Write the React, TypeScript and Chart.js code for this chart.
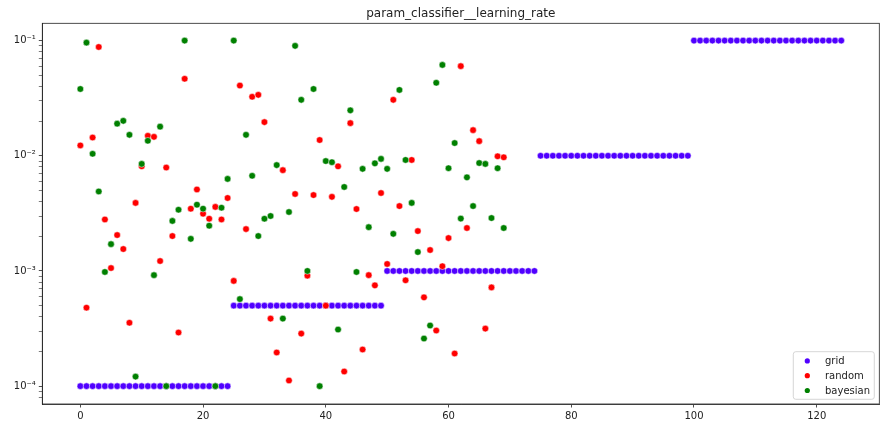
import React, { useEffect, useRef } from "react";
import Chart from "chart.js/auto";

const titleText = "param_classifier__learning_rate";
const seriesNames = ["grid", "random", "bayesian"];
const seriesColors = ["#5000ff", "#ff0000", "#008000"];

const gridValues = [
  0.0001, 0.0001, 0.0001, 0.0001, 0.0001, 0.0001, 0.0001, 0.0001, 0.0001, 0.0001, 0.0001, 0.0001, 0.0001, 0.0001, 0.0001, 0.0001, 0.0001, 0.0001, 0.0001, 0.0001, 0.0001, 0.0001, 0.0001, 0.0001, 0.0001,
  0.0005, 0.0005, 0.0005, 0.0005, 0.0005, 0.0005, 0.0005, 0.0005, 0.0005, 0.0005, 0.0005, 0.0005, 0.0005, 0.0005, 0.0005, 0.0005, 0.0005, 0.0005, 0.0005, 0.0005, 0.0005, 0.0005, 0.0005, 0.0005, 0.0005,
  0.001, 0.001, 0.001, 0.001, 0.001, 0.001, 0.001, 0.001, 0.001, 0.001, 0.001, 0.001, 0.001, 0.001, 0.001, 0.001, 0.001, 0.001, 0.001, 0.001, 0.001, 0.001, 0.001, 0.001, 0.001,
  0.01, 0.01, 0.01, 0.01, 0.01, 0.01, 0.01, 0.01, 0.01, 0.01, 0.01, 0.01, 0.01, 0.01, 0.01, 0.01, 0.01, 0.01, 0.01, 0.01, 0.01, 0.01, 0.01, 0.01, 0.01,
  0.1, 0.1, 0.1, 0.1, 0.1, 0.1, 0.1, 0.1, 0.1, 0.1, 0.1, 0.1, 0.1, 0.1, 0.1, 0.1, 0.1, 0.1, 0.1, 0.1, 0.1, 0.1, 0.1, 0.1, 0.1,
];

const randomValues = [
  0.0123, 0.00048, 0.0144, 0.088, 0.0028, 0.00106, 0.00205, 0.00155, 0.000355, 0.0039,
  0.0081, 0.0149, 0.0146, 0.00122, 0.0079, 0.00201, 0.000292, 0.0466, 0.00347, 0.0051,
  0.00314, 0.00284, 0.0036, 0.0028, 0.0043, 0.00082, 0.0407, 0.00231, 0.0325, 0.0338,
  0.0196, 0.000386, 0.000196, 0.0075, 0.000112, 0.00466, 0.000286, 0.00091, 0.00456, 0.0137,
  0.0005, 0.0044, 0.0081, 0.000134, 0.0192, 0.00345, 0.000208, 0.00092, 0.00075, 0.00475,
  0.00115, 0.0306, 0.00366, 0.00083, 0.0092, 0.00222, 0.00059, 0.00152, 0.000304, 0.0011,
  0.00193, 0.000192, 0.06, 0.00236, 0.0167, 0.0134, 0.000316, 0.00072, 0.0099, 0.0097,
];

const bayesianValues = [
  0.038, 0.096, 0.0104, 0.0049, 0.00098, 0.00171, 0.019, 0.0201, 0.0152, 0.000121,
  0.0085, 0.0135, 0.00092, 0.0179, 0.0001, 0.00272, 0.0034, 0.1, 0.0019, 0.00376,
  0.00347, 0.00247, 0.0001, 0.00354, 0.0063, 0.1, 0.00057, 0.0152, 0.0067, 0.00201,
  0.00284, 0.003, 0.0083, 0.000386, 0.00325, 0.09, 0.0306, 0.001, 0.038, 0.0001,
  0.009, 0.0088, 0.00031, 0.00536, 0.0248, 0.00098, 0.0077, 0.0024, 0.0086, 0.0094,
  0.0077, 0.0021, 0.0373, 0.0092, 0.0039, 0.00146, 0.000259, 0.000336, 0.043, 0.0615,
  0.0078, 0.0129, 0.00285, 0.0065, 0.00366, 0.00865, 0.0085, 0.00288, 0.0078, 0.00236,
];

const xTicks = [0, 20, 40, 60, 80, 100, 120];
const yMajorTicks = [1e-4, 1e-3, 1e-2, 1e-1];
const yTickLabels = ["10\u207B\u2074", "10\u207B\u00B3", "10\u207B\u00B2", "10\u207B\u00B9"];

const X_MIN = -6.2;
const X_MAX = 130.2;
const Y_MIN = 7.08e-5;
const Y_MAX = 0.1413;

const FONT = "'DejaVu Sans', sans-serif";
const INK = "#222";

const toPoints = (values: number[]) => values.map((v, i) => ({ x: i, y: v }));

// matplotlib-style box around the axes + legend in lower right
const framePlugin = {
  id: "frameAndLegend",
  afterDraw(chart: any) {
    const { ctx, chartArea } = chart;
    ctx.save();
    ctx.strokeStyle = INK;
    ctx.lineWidth = 0.8;
    ctx.strokeRect(
      chartArea.left,
      chartArea.top,
      chartArea.right - chartArea.left,
      chartArea.bottom - chartArea.top
    );

    const w = 81;
    const h = 47.6;
    const bx = chartArea.right - 5 - w;
    const by = chartArea.bottom - 4.7 - h;
    ctx.beginPath();
    ctx.roundRect(bx, by, w, h, 2.5);
    ctx.fillStyle = "rgba(255,255,255,0.8)";
    ctx.fill();
    ctx.strokeStyle = "#cccccc";
    ctx.lineWidth = 0.8;
    ctx.stroke();

    ctx.font = `10px ${FONT}`;
    ctx.textBaseline = "middle";
    ctx.textAlign = "left";
    chart.data.datasets.forEach((ds: any, i: number) => {
      const ry = by + 9.2 + i * 14.8;
      ctx.beginPath();
      ctx.arc(bx + 14, ry, 2.6, 0, Math.PI * 2);
      ctx.fillStyle = ds.backgroundColor;
      ctx.fill();
      ctx.fillStyle = INK;
      ctx.fillText(ds.label, bx + 31.7, ry + 0.5);
    });
    ctx.restore();
  },
};

const ScatterChart: React.FC = () => {
  const canvasRef = useRef<HTMLCanvasElement>(null);
  const chartInstance = useRef<Chart | null>(null);

  useEffect(() => {
    if (!canvasRef.current) return;
    if (chartInstance.current) chartInstance.current.destroy();

    const allValues = [gridValues, randomValues, bayesianValues];

    chartInstance.current = new Chart(canvasRef.current, {
      type: "scatter",
      data: {
        datasets: seriesNames.map((name, i) => ({
          label: name,
          data: toPoints(allValues[i]),
          backgroundColor: seriesColors[i],
          borderColor: "#ffffff",
          borderWidth: 0.5,
          pointRadius: 3.3,
          pointHoverRadius: 3.3,
          order: 2 - i,
        })),
      },
      options: {
        animation: false,
        responsive: false,
        events: [],
        layout: { padding: { left: 0, right: 15.7, top: 0, bottom: 0 } },
        scales: {
          x: {
            type: "linear",
            min: X_MIN,
            max: X_MAX,
            afterBuildTicks: (scale: any) => {
              scale.ticks = xTicks.map((v) => ({ value: v }));
            },
            afterFit: (scale: any) => {
              scale.height = 24;
            },
            grid: {
              drawOnChartArea: false,
              drawTicks: true,
              tickLength: 3.5,
              tickColor: INK,
              tickWidth: 0.8,
            },
            border: { display: true, color: INK, width: 0.8 },
            ticks: {
              autoSkip: false,
              maxRotation: 0,
              padding: 3,
              color: INK,
              font: { family: FONT, size: 10 },
              callback: (v: any) => String(v),
            },
          },
          y: {
            type: "logarithmic",
            min: Y_MIN,
            max: Y_MAX,
            afterBuildTicks: (scale: any) => {
              const ticks: any[] = [];
              for (let e = -5; e <= -1; e++) {
                for (let m = 1; m <= 9; m++) {
                  const v = m * Math.pow(10, e);
                  if (v >= Y_MIN && v <= Y_MAX) ticks.push({ value: v, major: m === 1 });
                }
              }
              scale.ticks = ticks;
            },
            afterFit: (scale: any) => {
              scale.width = 42.3;
            },
            grid: {
              drawOnChartArea: false,
              drawTicks: true,
              tickLength: 3.5,
              tickColor: INK,
              tickWidth: (c: any) => (c.tick && c.tick.major ? 0.8 : 0.6),
            },
            border: { display: true, color: INK, width: 0.8 },
            ticks: {
              autoSkip: false,
              padding: 3,
              color: INK,
              font: { family: FONT, size: 10 },
              callback: (v: any) => {
                const idx = yMajorTicks.findIndex(
                  (t) => Math.abs(Math.log10(t) - Math.log10(Number(v))) < 1e-6
                );
                return idx >= 0 ? yTickLabels[idx] : "";
              },
            },
          },
        },
        plugins: {
          legend: { display: false },
          tooltip: { enabled: false },
          title: {
            display: true,
            text: titleText,
            fullSize: false,
            color: INK,
            font: { family: FONT, size: 12, weight: "normal" },
            padding: { top: 6.3, bottom: 2.6 },
          },
        },
      },
      plugins: [framePlugin],
    } as any);

    return () => {
      if (chartInstance.current) {
        chartInstance.current.destroy();
        chartInstance.current = null;
      }
    };
  }, []);

  return <canvas ref={canvasRef} width={895} height={428} style={{ width: "895px", height: "428px", display: "block" }} />;
};

export default function App() {
  return (
    <div style={{ position: "fixed", left: 0, top: 0, width: 895, height: 428, background: "#ffffff" }}>
      <ScatterChart />
    </div>
  );
}
